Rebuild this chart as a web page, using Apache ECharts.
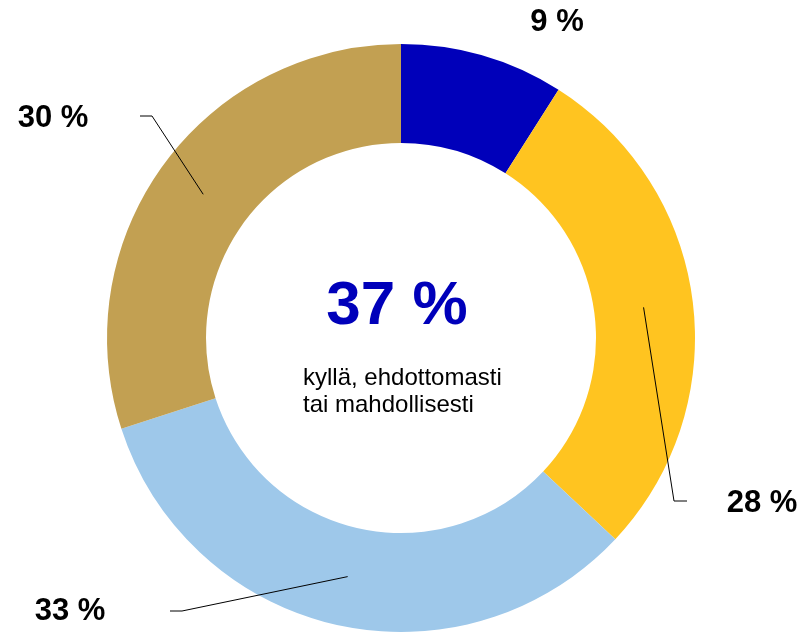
<!DOCTYPE html>
<html>
<head>
<meta charset="utf-8">
<script src="https://cdn.jsdelivr.net/npm/echarts@6/dist/echarts.min.js"></script>
<style>
html, body { margin: 0; padding: 0; background: #fff; }
#chart-box { width: 800px; height: 633px; }
</style>
</head>
<body>
<div id="chart-box"></div>
<script>
// data
var categories = ['ehdottomasti', 'mahdollisesti', 'ei', 'en osaa sanoa'];
var values = [9, 28, 33, 30];
var colors = ['#0000BA', '#FFC420', '#9EC8EA', '#C2A052'];
var centerValue = '37 %';
var centerText = 'kyllä, ehdottomasti\ntai mahdollisesti';

// label placement (px)
var labelPos = [[557, 22], [762, 503], [70, 611], [53, 118]];
var bendPos = [null, [[674, 501], [687, 501]], [[182, 611], [170, 611]], [[152, 116], [140, 116]]];

var cx = 401, cy = 338, rIn = 195, rOut = 294;
var font = "'Liberation Sans', Arial, sans-serif";

var myChart = echarts.init(document.getElementById('chart-box'));

var ringData = [];
var labelData = [];
for (var i = 0; i < values.length; i++) {
    ringData.push({
        name: categories[i],
        value: values[i],
        itemStyle: { color: colors[i] }
    });
    labelData.push({
        name: categories[i],
        value: values[i],
        labelLine: { show: i != 0 }
    });
}

var option = {
    animation: false,
    series: [{
        // the ring itself
        type: 'pie',
        z: 2,
        center: [cx, cy],
        radius: [rIn, rOut],
        startAngle: 90,
        clockwise: true,
        silent: true,
        data: ringData,
        label: { show: false },
        labelLine: { show: false }
    }, {
        // transparent copy carrying the labels, so the lines sit on top
        type: 'pie',
        z: 5,
        center: [cx, cy],
        radius: [rIn, rOut],
        startAngle: 90,
        clockwise: true,
        silent: true,
        data: labelData,
        itemStyle: { color: 'rgba(0,0,0,0)' },
        label: {
            show: true,
            formatter: '{c} %',
            color: '#000',
            fontFamily: font,
            fontWeight: 'bold',
            fontSize: 31,
            overflow: 'none'
        },
        labelLine: {
            show: true,
            lineStyle: { color: '#000', width: 1 }
        },
        labelLayout: function (params) {
            var i = params.dataIndex;
            var res = {
                x: labelPos[i][0],
                y: labelPos[i][1],
                align: 'center',
                verticalAlign: 'middle'
            };
            if (bendPos[i] && params.labelLinePoints) {
                // start the line in the middle of the ring
                var p = params.labelLinePoints[0];
                var k = (rIn + rOut) / 2 / rOut;
                var start = [cx + (p[0] - cx) * k, cy + (p[1] - cy) * k];
                res.labelLinePoints = [start, bendPos[i][0], bendPos[i][1]];
            }
            return res;
        }
    }],
    graphic: [{
        type: 'text',
        style: {
            x: 397,
            y: 307,
            text: centerValue,
            fill: '#0000BA',
            font: 'bold 62px ' + font,
            textAlign: 'center',
            textVerticalAlign: 'middle'
        }
    }, {
        type: 'text',
        style: {
            x: 303,
            y: 392,
            text: centerText,
            fill: '#000',
            font: '24px ' + font,
            lineHeight: 27,
            textAlign: 'left',
            textVerticalAlign: 'middle'
        }
    }]
};

myChart.setOption(option);
</script>
</body>
</html>
